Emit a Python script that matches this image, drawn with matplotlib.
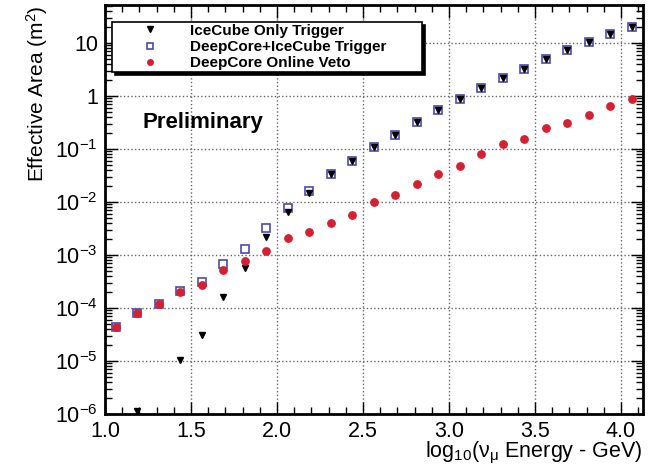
import numpy as np
import matplotlib
matplotlib.use('Agg')
import matplotlib.pyplot as plt
from matplotlib.ticker import MultipleLocator, LogLocator, NullFormatter

plt.rcParams['font.family'] = ['Liberation Sans', 'DejaVu Sans']
plt.rcParams['mathtext.fontset'] = 'custom'
plt.rcParams['mathtext.rm'] = 'Liberation Sans'
plt.rcParams['mathtext.it'] = 'Liberation Sans'

# bin centres in log10(E/GeV)
energy = [1.0625, 1.1875, 1.3125, 1.4375, 1.5625, 1.6875, 1.8125, 1.9375, 2.0625,
          2.1875, 2.3125, 2.4375, 2.5625, 2.6875, 2.8125, 2.9375, 3.0625, 3.1875,
          3.3125, 3.4375, 3.5625, 3.6875, 3.8125, 3.9375, 4.0625]

deepcore_icecube = [4.3e-5, 7.9e-5, 1.17e-4, 2.1e-4, 3.05e-4, 6.9e-4, 1.3e-3, 3.2e-3, 7.8e-3,
                    1.63e-2, 3.3e-2, 5.9e-2, 0.109, 0.186, 0.32, 0.545, 0.88, 1.43,
                    2.15, 3.28, 5.0, 7.3, 10.3, 14.6, 20.0]

# icecube only: no entries in the first and third bins
icecube_only = [np.nan, 1.15e-6, np.nan, 1.05e-5, 3.1e-5, 1.63e-4, 5.7e-4, 2.2e-3, 6.5e-3,
                1.46e-2, 3.3e-2, 5.9e-2, 0.109, 0.186, 0.32, 0.545, 0.88, 1.43,
                2.15, 3.28, 5.0, 7.3, 10.3, 14.6, 20.0]

online_veto = [4.3e-5, 7.9e-5, 1.17e-4, 1.98e-4, 2.7e-4, 5.3e-4, 7.7e-4, 1.19e-3, 2.07e-3,
               2.7e-3, 4.07e-3, 5.7e-3, 9.8e-3, 1.37e-2, 2.2e-2, 3.3e-2, 4.7e-2, 8.2e-2,
               0.122, 0.155, 0.25, 0.31, 0.43, 0.65, 0.86]

fig = plt.figure(figsize=(6.59, 4.66), dpi=100)
ax = fig.add_axes([0.1593, 0.1116, 0.8164, 0.8777])

ax.plot(energy, deepcore_icecube, ls='none', marker='s', ms=5.5, mfc='none',
        mec='#4b4ba8', mew=1.2, label='DeepCore+IceCube Trigger', zorder=3)
ax.plot(energy, icecube_only, ls='none', marker='v', ms=5, color='black',
        label='IceCube Only Trigger', zorder=4)
ax.plot(energy, online_veto, ls='none', marker='o', ms=5.3, color='#d42030',
        mec='#d42030', label='DeepCore Online Veto', zorder=5)

ax.set_yscale('log')
ax.set_xlim(1.0, 4.128)
ax.set_ylim(1e-6, 52)

ax.xaxis.set_minor_locator(MultipleLocator(0.1))
ax.set_xticks([1.0, 1.5, 2.0, 2.5, 3.0, 3.5, 4.0])
ax.set_xticklabels(['1.0', '1.5', '2.0', '2.5', '3.0', '3.5', '4.0'])
ax.yaxis.set_minor_locator(LogLocator(base=10, subs=np.arange(2, 10), numticks=20))
ax.yaxis.set_minor_formatter(NullFormatter())
ax.set_yticks([1e-6, 1e-5, 1e-4, 1e-3, 1e-2, 1e-1, 1, 10])
ax.set_yticklabels(['$10^{-6}$', '$10^{-5}$', '$10^{-4}$', '$10^{-3}$',
                    '$10^{-2}$', '$10^{-1}$', '1', '10'])

ax.tick_params(which='both', direction='in', top=True, right=True, width=1)
ax.tick_params(which='major', length=9, labelsize=15.5, pad=5)
ax.tick_params(which='minor', length=5)
ax.tick_params(axis='x', which='major', pad=5)

ax.grid(True, which='major', ls=':', color='#666666', lw=1)
for s in ax.spines.values():
    s.set_linewidth(2)

ax.set_ylabel('Effective Area (m$^2$)', fontsize=15)
ax.yaxis.set_label_coords(-0.103, 1.0)
ax.yaxis.label.set_horizontalalignment('right')
ax.set_xlabel('log$_{10}$(ν$_{μ}$ Energy - GeV)', fontsize=15.5)
ax.xaxis.set_label_coords(1.0, -0.063)
ax.xaxis.label.set_horizontalalignment('right')

handles, labels = ax.get_legend_handles_labels()
order = [1, 0, 2]
leg = ax.legend([handles[i] for i in order], [labels[i] for i in order],
                loc='upper left', bbox_to_anchor=(0.013, 0.836, 0.576, 0.122),
                mode='expand', fancybox=False,
                shadow={'color': 'black', 'alpha': 1}, framealpha=1,
                edgecolor='black', prop={'weight': 'bold', 'size': 11},
                markerscale=0.75, handletextpad=0.2, borderpad=0.1,
                labelspacing=0.15, handlelength=4.8, borderaxespad=0)
leg.get_frame().set_linewidth(1.2)
leg.set_zorder(10)

ax.text(0.0706, 0.699, 'Preliminary', transform=ax.transAxes, fontsize=16,
        fontweight='bold', va='baseline')

fig.savefig('out.png', dpi=100)
